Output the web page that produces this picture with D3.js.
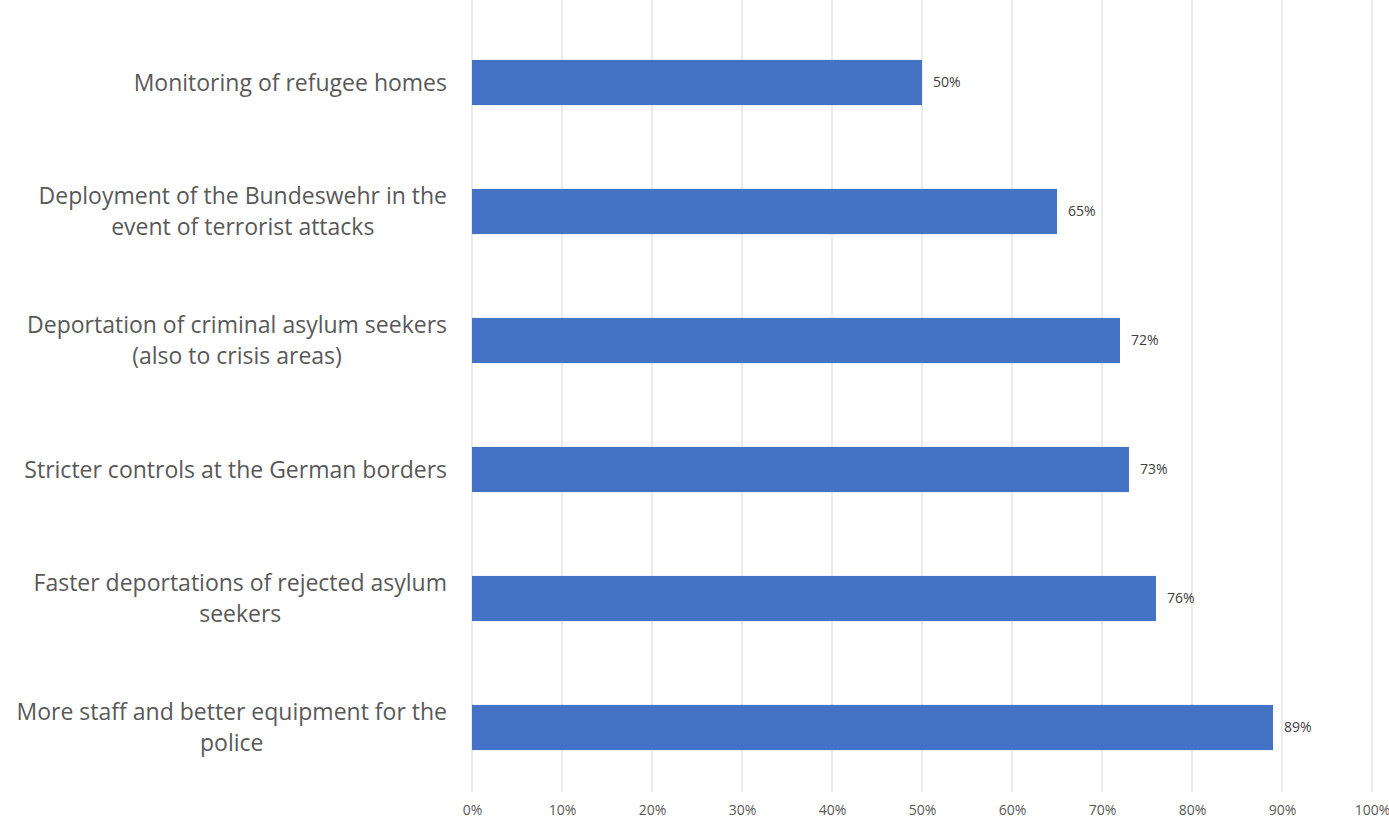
<!DOCTYPE html>
<html>
<head>
<meta charset="utf-8">
<script src="https://cdn.jsdelivr.net/npm/d3@7"></script>
<style>
  body { margin: 0; background: #fff; }
  svg text { font-family: "Open Sans", "Noto Sans", sans-serif; }
</style>
</head>
<body>
<div id="chart"></div>
<script>
// data
var categories = [
  ["Monitoring of refugee homes"],
  ["Deployment of the Bundeswehr in the", "event of terrorist attacks"],
  ["Deportation of criminal asylum seekers", "(also to crisis areas)"],
  ["Stricter controls at the German borders"],
  ["Faster deportations of rejected asylum", "seekers"],
  ["More staff and better equipment for the", "police"]
];
var values = [50, 65, 72, 73, 76, 89];
var tickValues = [0, 10, 20, 30, 40, 50, 60, 70, 80, 90, 100];

var width = 1389;
var height = 818;

var plotLeft = 472;
var plotRight = 1372;
var plotTop = 18;
var plotBottom = 792;

var svg = d3.select("#chart")
  .append("svg")
  .attr("width", width)
  .attr("height", height);

var xScale = d3.scaleLinear()
  .domain([0, 100])
  .range([plotLeft, plotRight]);

var yScale = d3.scaleBand()
  .domain(d3.range(categories.length))
  .range([plotTop, plotBottom])
  .paddingInner(0.65)
  .paddingOuter(0.325);

// vertical gridlines
svg.append("g")
  .selectAll("line")
  .data(tickValues)
  .enter()
  .append("line")
  .attr("x1", function(d) { return xScale(d); })
  .attr("x2", function(d) { return xScale(d); })
  .attr("y1", 0)
  .attr("y2", plotBottom)
  .attr("stroke", "#d9d9d9")
  .attr("stroke-width", 1);

// x axis labels (no axis line in the original)
var xAxis = d3.axisBottom(xScale)
  .tickValues(tickValues)
  .tickSize(0)
  .tickPadding(0)
  .tickFormat(function(d) { return d + "%"; });

var xg = svg.append("g")
  .attr("transform", "translate(0," + 805 + ")")
  .call(xAxis);
xg.select(".domain").remove();
xg.selectAll("text")
  .attr("font-size", 14)
  .attr("fill", "#595959")
  .style("font-family", "'Open Sans', sans-serif");

// bars
svg.append("g")
  .selectAll("rect")
  .data(values)
  .enter()
  .append("rect")
  .attr("x", xScale(0))
  .attr("y", function(d, i) { return yScale(i); })
  .attr("width", function(d) { return xScale(d) - xScale(0); })
  .attr("height", yScale.bandwidth())
  .attr("fill", "#4472c4");

// value labels
svg.append("g")
  .selectAll("text")
  .data(values)
  .enter()
  .append("text")
  .attr("x", function(d) { return xScale(d) + 11; })
  .attr("y", function(d, i) { return yScale(i) + yScale.bandwidth() / 2; })
  .attr("dy", "0.35em")
  .attr("font-size", 14)
  .attr("fill", "#404040")
  .text(function(d) { return d + "%"; });

// category labels, lines centred on each other, block right aligned
var lineHeight = 31;
var labelRight = 447;
categories.forEach(function(lines, i) {
  var cy = yScale(i) + yScale.bandwidth() / 2;
  var g = svg.append("g");
  var texts = lines.map(function(line, j) {
    return g.append("text")
      .attr("y", cy + (j - (lines.length - 1) / 2) * lineHeight)
      .attr("dy", "0.35em")
      .attr("text-anchor", "middle")
      .attr("font-size", 23)
      .attr("fill", "#595959")
      .text(line);
  });
  var maxW = d3.max(texts, function(t) { return t.node().getComputedTextLength(); });
  texts.forEach(function(t) { t.attr("x", labelRight - maxW / 2); });
});
</script>
</body>
</html>
